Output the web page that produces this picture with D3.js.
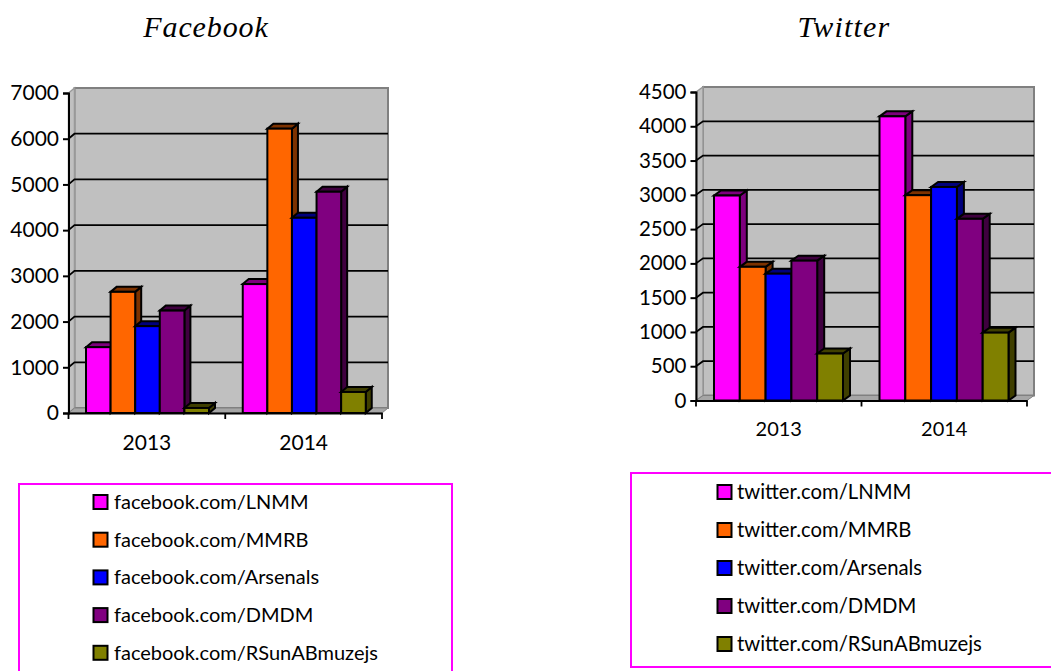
<!DOCTYPE html>
<html><head><meta charset="utf-8"><script src="https://d3js.org/d3.v7.min.js"></script>
<style>html,body{margin:0;background:#fff}svg{display:block}</style></head><body><svg id="c" width="1051" height="671"></svg>
<script>
const years=["2013","2014"];
const colors=["#ff00ff","#ff6600","#0000ff","#800080","#808000"];
const fbNames=["facebook.com/LNMM","facebook.com/MMRB","facebook.com/Arsenals","facebook.com/DMDM","facebook.com/RSunABmuzejs"];
const twNames=["twitter.com/LNMM","twitter.com/MMRB","twitter.com/Arsenals","twitter.com/DMDM","twitter.com/RSunABmuzejs"];
const fbValues=[[1440,2820],[2650,6220],[1900,4270],[2240,4840],[110,460]];
const twValues=[[2990,4145],[1950,2995],[1850,3115],[2040,2650],[685,990]];
const fbTicks=[0,1000,2000,3000,4000,5000,6000,7000];
const twTicks=[0,500,1000,1500,2000,2500,3000,3500,4000,4500];
const svg=d3.select("#c");
const FONT="Lato,sans-serif";
function chart(o){
 const g=svg.append("g");
 const y=d3.scaleLinear().domain([0,o.max]).range([o.y0,o.y1]);
 const x0=d3.scaleBand().domain(years).range([o.x0,o.x1]);
 const d=o.dx, e=5;
 g.append("path").attr("d",`M${o.x0+d},${o.y1-e}H${o.x1+d}V${o.y0-e}H${o.x0+d}Z`).attr("fill","#c0c0c0").attr("stroke","#808080").attr("stroke-width",2);
 g.append("path").attr("d",`M${o.x0},${o.y1}L${o.x0+d},${o.y1-e}V${o.y0-e}L${o.x0},${o.y0}Z`).attr("fill","#c0c0c0").attr("stroke","#999").attr("stroke-width",1.5);
 g.append("path").attr("d",`M${o.x0},${o.y0}L${o.x0+d},${o.y0-e}H${o.x1+d}L${o.x1},${o.y0}Z`).attr("fill","#a6a6a6").attr("stroke","#808080").attr("stroke-width",1);
 o.ticks.slice(1,-1).forEach(t=>{
  g.append("path").attr("d",`M${o.x0},${y(t)}L${o.x0+d},${y(t)-e}H${o.x1+d}`).attr("fill","none").attr("stroke","#000").attr("stroke-width",1.8);
 });
 const bw=o.bw;
 o.values.forEach((s,i)=>s.forEach((v,j)=>{
  const bx=x0(years[j])+o.pad+i*bw, yt=y(v), dk=d3.color(colors[i]).darker(2).formatHex();
  g.append("path").attr("d",`M${bx+bw},${yt}l${d},${-e}V${o.y0-e}l${-d},${e}Z`).attr("fill",dk).attr("stroke","#000").attr("stroke-width",2);
  g.append("path").attr("d",`M${bx},${yt}l${d},${-e}h${bw}l${-d},${e}Z`).attr("fill",dk).attr("stroke","#000").attr("stroke-width",2);
  g.append("rect").attr("x",bx).attr("y",yt).attr("width",bw).attr("height",o.y0-yt).attr("fill",colors[i]).attr("stroke","#000").attr("stroke-width",2);
 }));
 const ax=g.append("g").attr("transform",`translate(${o.x0},0)`).call(d3.axisLeft(y).tickValues(o.ticks).tickSize(5.5).tickFormat(d3.format("d")));
 ax.selectAll("text").attr("font-family",FONT).attr("font-size",o.fs).attr("fill","#000").attr("x",-9.5);
 ax.selectAll("path,line").attr("stroke","#000").attr("stroke-width",2);
 const xa=g.append("g").attr("transform",`translate(0,${o.y0})`).call(d3.axisBottom(x0).tickSize(0).tickPadding(o.xpad));
 xa.select(".domain").attr("stroke","#000").attr("stroke-width",2.2);
 xa.selectAll("text").attr("font-family",FONT).attr("font-size",o.fsx).attr("fill","#000");
 [o.x0,(o.x0+o.x1)/2,o.x1].forEach(px=>g.append("line").attr("x1",px).attr("x2",px).attr("y1",o.y0).attr("y2",o.y0+6).attr("stroke","#000").attr("stroke-width",1.8));
 g.append("text").attr("x",o.tx).attr("y",37).attr("text-anchor","middle").attr("font-family","'Liberation Serif',serif").attr("font-style","italic").attr("font-size",30).attr("letter-spacing",o.ls).text(o.title);
 g.append("rect").attr("x",o.lx).attr("y",o.ly).attr("width",o.lw).attr("height",o.lh).attr("fill","#fff").attr("stroke","#ff00ff").attr("stroke-width",2);
 o.names.forEach((n,i)=>{
  const cy=o.ly0+i*o.lstep;
  g.append("rect").attr("x",o.lk).attr("y",cy-7).attr("width",14).attr("height",14).attr("fill",colors[i]).attr("stroke","#000").attr("stroke-width",2);
  g.append("text").attr("x",o.lk+o.ltx).attr("y",cy+7).attr("font-family",FONT).attr("font-size",o.lfs).attr("fill","#000").text(n);
 });
}
chart({x0:68.5,x1:382,y0:413,y1:93,max:7000,dx:6,ticks:fbTicks,values:fbValues,names:fbNames,title:"Facebook",tx:206,ls:0.9,bw:24.6,pad:17.5,fs:21,fsx:21,xpad:22,lx:19,ly:484,lw:433,lh:190,lk:93.5,ltx:20.5,lfs:20,ly0:502,lstep:37.7});
chart({x0:696,x1:1027,y0:400.5,y1:92,max:4500,dx:7,ticks:twTicks,values:twValues,names:twNames,title:"Twitter",tx:844,ls:1.2,bw:25.8,pad:18,fs:20.5,fsx:20,xpad:21,lx:631,ly:473,lw:425,lh:194,lk:717.5,ltx:19.5,lfs:20.3,ly0:492,lstep:38});
</script></body></html>
